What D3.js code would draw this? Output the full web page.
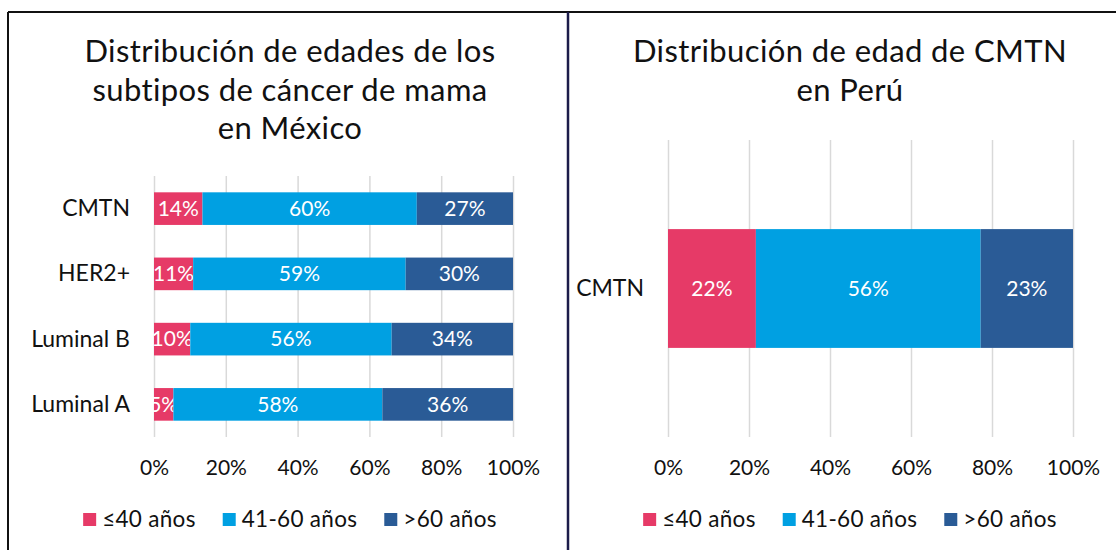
<!DOCTYPE html>
<html>
<head>
<meta charset="utf-8">
<script src="https://cdn.jsdelivr.net/npm/d3@7"></script>
<style>
  body { margin: 0; background: #fff; }
  text { font-family: Lato, "Open Sans", sans-serif; }
</style>
</head>
<body>
<div id="chart-area"></div>
<script>
// México: share of each age group per subtype (percent)
var mxCategories = ['CMTN', 'HER2+', 'Luminal B', 'Luminal A'];
var mxUnder40 = [13.5, 10.9, 10.1, 5.4];
var mxMid = [59.7, 59.2, 56.1, 58.2];
var mxOver60 = [26.8, 29.9, 33.8, 36.4];

// Perú: CMTN only
var peCategories = ['CMTN'];
var peUnder40 = [21.7];
var peMid = [55.5];
var peOver60 = [22.8];

var seriesNames = ['≤40 años', '41-60 años', '>60 años'];
var seriesColors = ['#E63A67', '#00A0E2', '#2A5B96'];
var tickValues = [0, 20, 40, 60, 80, 100];

var svg = d3.select('#chart-area').append('svg')
    .attr('width', 1116)
    .attr('height', 550);

// panel frames
svg.append('line')
    .attr('x1', 8).attr('y1', 12).attr('x2', 1116).attr('y2', 12)
    .attr('stroke', '#111').attr('stroke-width', 2);
svg.append('line')
    .attr('x1', 8).attr('y1', 12).attr('x2', 8).attr('y2', 550)
    .attr('stroke', '#111').attr('stroke-width', 2);
svg.append('line')
    .attr('x1', 568).attr('y1', 12).attr('x2', 568).attr('y2', 550)
    .attr('stroke', '#1c1c4a').attr('stroke-width', 2.5);

function drawPanel(opt) {
    var rows = opt.categories.map(function (c, i) {
        return { cat: c, vals: [opt.s1[i], opt.s2[i], opt.s3[i]] };
    });

    var g = svg.append('g');

    // title
    var title = g.append('text')
        .attr('text-anchor', 'middle')
        .attr('style', 'font-size: 31px; letter-spacing: 0.4px')
        .attr('fill', '#111');
    opt.title.forEach(function (line, i) {
        title.append('tspan')
            .attr('x', opt.center)
            .attr('y', 62 + i * 38.5)
            .text(line);
    });

    var x = d3.scaleLinear()
        .domain([0, 100])
        .range([opt.left, opt.right]);

    var y = d3.scaleBand()
        .domain(opt.categories)
        .range([opt.top, opt.bottom])
        .paddingInner(.5)
        .paddingOuter(opt.outer);

    // gridlines
    var grid = g.append('g')
        .attr('transform', 'translate(0,' + opt.bottom + ')')
        .call(d3.axisBottom(x).tickValues(tickValues)
            .tickSize(-(opt.bottom - opt.top)).tickFormat(''));
    grid.select('.domain').remove();
    grid.selectAll('line').attr('stroke', '#d9d9d9').attr('stroke-width', 1.5);

    // x tick labels
    var xAxis = g.append('g')
        .attr('transform', 'translate(0,' + (opt.bottom + 20) + ')')
        .call(d3.axisBottom(x).tickValues(tickValues).tickSize(0)
            .tickFormat(function (d) { return d + '%'; }));
    xAxis.select('.domain').remove();
    xAxis.selectAll('text')
        .attr('style', 'font-size: 21px; font-family: Lato, sans-serif')
        .attr('fill', '#111');

    // category labels
    var yAxis = g.append('g')
        .attr('transform', 'translate(' + (opt.left - 21) + ',0)')
        .call(d3.axisLeft(y).tickSize(0));
    yAxis.select('.domain').remove();
    yAxis.selectAll('text')
        .attr('style', 'font-size: 23px; font-family: Lato, sans-serif')
        .attr('fill', '#111');

    // stacked segments
    rows.forEach(function (r) {
        var start = 0;
        r.vals.forEach(function (v, k) {
            g.append('rect')
                .attr('x', x(start))
                .attr('y', y(r.cat))
                .attr('width', x(start + v) - x(start))
                .attr('height', y.bandwidth())
                .attr('fill', seriesColors[k]);
            g.append('text')
                .attr('x', x(start + v / 2))
                .attr('y', y(r.cat) + y.bandwidth() / 2)
                .attr('dy', '0.35em')
                .attr('text-anchor', 'middle')
                .attr('style', 'font-size: 21px')
                .attr('fill', '#fff')
                .text(Math.round(v) + '%');
            start += v;
        });
    });

    // legend
    var legend = g.append('g');
    var pos = 0;
    seriesNames.forEach(function (name, k) {
        var item = legend.append('g').attr('transform', 'translate(' + pos + ',0)');
        item.append('rect')
            .attr('x', 0).attr('y', -6)
            .attr('width', 13).attr('height', 13)
            .attr('fill', seriesColors[k]);
        var t = item.append('text')
            .attr('x', 19)
            .attr('dy', '0.35em')
            .attr('style', 'font-size: 22.5px; letter-spacing: 0.3px')
            .attr('fill', '#111')
            .text(name);
        pos += 19 + t.node().getComputedTextLength() + 27;
    });
    var total = pos - 27;
    legend.attr('transform', 'translate(' + (opt.center - total / 2) + ',519)');
}

drawPanel({
    categories: mxCategories, s1: mxUnder40, s2: mxMid, s3: mxOver60,
    title: ['Distribución de edades de los', 'subtipos de cáncer de mama', 'en México'],
    center: 290, left: 154, right: 513, top: 176, bottom: 437, outer: .25
});

drawPanel({
    categories: peCategories, s1: peUnder40, s2: peMid, s3: peOver60,
    title: ['Distribución de edad de CMTN', 'en Perú'],
    center: 850, left: 668, right: 1073, top: 140, bottom: 437, outer: .375
});
</script>
</body>
</html>
